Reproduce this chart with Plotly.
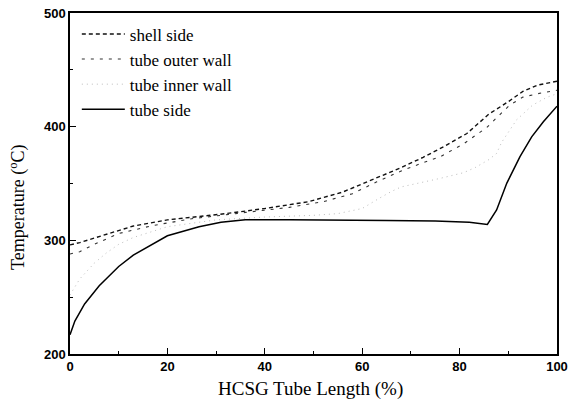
import plotly.graph_objects as go

x_shell = [0, 2, 5, 7.5, 10, 13, 20, 26.5, 32, 40, 49, 56, 63, 68, 72.5, 77, 81.5, 86, 90, 93, 96, 100]
y_shell = [296, 298, 302, 305.5, 309, 312.6, 318, 321, 323.5, 328, 334, 342.5, 355, 364, 373, 383, 394, 411, 422, 431, 436.5, 440]

x_outer = [0, 2, 5, 10, 17, 25, 35, 45, 52, 58, 63, 68, 72, 76, 80.8, 83.2, 85.6, 88, 90.3, 93, 96, 100]
y_outer = [288, 290, 296.5, 306, 313, 319, 324, 329, 334, 341, 351.5, 361, 367.5, 373.5, 384.8, 391.8, 399.4, 409.5, 419, 426, 429, 432]

x_inner = [0, 2, 5, 7.5, 10, 13, 20, 30, 40, 50, 55, 60, 63.5, 66, 68, 72, 76, 80.8, 83.2, 86, 87.6, 88.6, 90.3, 91.7, 95, 98, 100]
y_inner = [252, 266, 280, 289, 296.5, 302.5, 312, 318, 320.5, 322, 323.5, 328, 337, 343, 347, 350.5, 354.5, 359.5, 364, 371, 376.5, 386, 397, 406, 419, 426, 429]

x_tube = [0, 1, 3, 6, 10, 13, 20, 26.5, 31, 36, 45, 55, 65, 75, 82, 85.7, 87.6, 89.7, 92.4, 94.8, 97.2, 100]
y_tube = [217, 229, 244, 260, 277, 287, 304, 312, 316, 318, 318, 318, 317.5, 317, 316, 314, 326.7, 350.4, 373.6, 391, 404.4, 418]

x_ticks = [0, 20, 40, 60, 80, 100]
y_ticks = [200, 300, 400, 500]

x_title = "HCSG Tube Length (%)"
y_title = "Temperature (<sup>o</sup>C)"

fig = go.Figure()
fig.add_trace(go.Scatter(x=x_shell, y=y_shell, mode="lines", name="shell side",
                         line=dict(color="#111111", width=1.4, dash="4px,3px")))
fig.add_trace(go.Scatter(x=x_outer, y=y_outer, mode="lines", name="tube outer wall",
                         line=dict(color="#333333", width=1.1, dash="3px,6px")))
fig.add_trace(go.Scatter(x=x_inner, y=y_inner, mode="lines", name="tube inner wall",
                         line=dict(color="#bbbbbb", width=1, dash="1px,4px")))
fig.add_trace(go.Scatter(x=x_tube, y=y_tube, mode="lines", name="tube side",
                         line=dict(color="#000000", width=1.5)))

axis_common = dict(showline=True, linecolor="black", linewidth=1.5, mirror=True,
                   ticks="inside", ticklen=6, tickcolor="black", showgrid=False,
                   zeroline=False, automargin=False, ticklabeloverflow="allow",
                   tickfont=dict(family="Liberation Sans", size=13, color="black",
                                 weight="bold"))

fig.update_xaxes(range=[0, 100], tickvals=x_ticks,
                 minor=dict(dtick=10, ticks="inside", ticklen=3, tickcolor="black"),
                 **axis_common)
fig.update_yaxes(range=[200, 500], tickvals=y_ticks,
                 minor=dict(dtick=50, ticks="inside", ticklen=3, tickcolor="black"),
                 **axis_common)

fig.add_annotation(text=x_title, xref="paper", yref="paper", x=0.493, y=-0.1026,
                   xanchor="center", yanchor="middle", showarrow=False,
                   font=dict(family="Liberation Serif", size=19, color="black"))
fig.add_annotation(text=y_title, xref="paper", yref="paper", x=-0.107, y=0.431,
                   xanchor="center", yanchor="middle", showarrow=False, textangle=-90,
                   font=dict(family="Liberation Serif", size=18, color="black"))

fig.update_layout(
    width=570, height=407,
    margin=dict(l=70, r=13, t=13, b=53),
    paper_bgcolor="white", plot_bgcolor="white",
    showlegend=True,
    legend=dict(x=0.014, y=0.99, xanchor="left", yanchor="top",
                bgcolor="rgba(0,0,0,0)", borderwidth=0, itemwidth=43,
                font=dict(family="Liberation Serif", size=17, color="black")),
)

# remove the default 8px page margin so the figure fills the window exactly
fig.write_html("out.html",
               config={"displayModeBar": False},
               post_script="document.body.style.margin='0';document.body.style.overflow='hidden';")
